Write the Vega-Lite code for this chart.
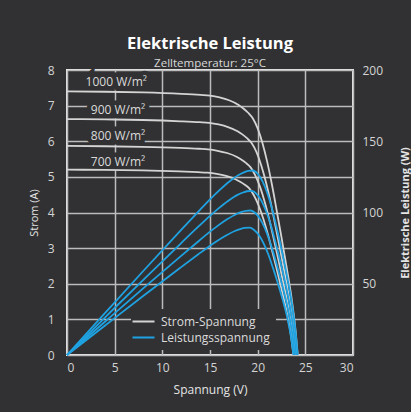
{
  "$schema": "https://vega.github.io/schema/vega-lite/v6.json",
  "width": 286,
  "height": 285,
  "autosize": {"type": "none"},
  "padding": {"left": 67, "top": 70, "right": 58, "bottom": 57},
  "background": "#313133",
  "title": {
    "text": "Elektrische Leistung",
    "subtitle": "Zelltemperatur: 25°C",
    "anchor": "middle",
    "frame": "group",
    "color": "#ffffff",
    "subtitleColor": "#d8d8d8",
    "font": "Open Sans",
    "subtitleFont": "Open Sans",
    "fontSize": 16.5,
    "fontWeight": "bold",
    "subtitleFontSize": 11.5,
    "subtitlePadding": 5,
    "offset": -5
  },
  "config": {
    "font": "Open Sans",
    "view": {"stroke": "#e8e8e8", "strokeWidth": 2},
    "axis": {
      "labelColor": "#d4d4d4",
      "titleColor": "#e4e4e4",
      "labelFont": "Open Sans",
      "titleFont": "Open Sans",
      "domain": false,
      "ticks": false,
      "labelOverlap": false,
      "gridColor": "#bcbcbc",
      "gridWidth": 1.5,
      "gridOpacity": 1
    }
  },
  "datasets": {
    "curves": [
      {"g": "1000", "V": 0, "I": 7.40, "P": 0},
      {"g": "1000", "V": 4, "I": 7.39, "P": 29.56},
      {"g": "1000", "V": 8, "I": 7.37, "P": 58.96},
      {"g": "1000", "V": 12, "I": 7.33, "P": 87.96},
      {"g": "1000", "V": 14, "I": 7.30, "P": 102.2},
      {"g": "1000", "V": 15, "I": 7.28, "P": 109.2},
      {"g": "1000", "V": 16, "I": 7.23, "P": 115.68},
      {"g": "1000", "V": 17, "I": 7.15, "P": 121.55},
      {"g": "1000", "V": 18, "I": 7.02, "P": 126.36},
      {"g": "1000", "V": 18.5, "I": 6.92, "P": 128.02},
      {"g": "1000", "V": 19, "I": 6.80, "P": 129.2},
      {"g": "1000", "V": 19.5, "I": 6.64, "P": 129.48},
      {"g": "1000", "V": 20, "I": 6.36, "P": 127.2},
      {"g": "1000", "V": 20.5, "I": 5.95, "P": 121.98},
      {"g": "1000", "V": 21, "I": 5.42, "P": 113.82},
      {"g": "1000", "V": 21.5, "I": 4.78, "P": 102.77},
      {"g": "1000", "V": 22, "I": 4.05, "P": 89.1},
      {"g": "1000", "V": 22.5, "I": 3.30, "P": 74.25},
      {"g": "1000", "V": 23, "I": 2.52, "P": 57.96},
      {"g": "1000", "V": 23.5, "I": 1.70, "P": 39.95},
      {"g": "1000", "V": 24, "I": 0.62, "P": 14.88},
      {"g": "1000", "V": 24.2, "I": 0, "P": 0},

      {"g": "900", "V": 0, "I": 6.623, "P": 0},
      {"g": "900", "V": 3.975, "I": 6.614, "P": 26.29},
      {"g": "900", "V": 7.95, "I": 6.596, "P": 52.44},
      {"g": "900", "V": 11.93, "I": 6.560, "P": 78.23},
      {"g": "900", "V": 13.91, "I": 6.534, "P": 90.90},
      {"g": "900", "V": 14.91, "I": 6.516, "P": 97.12},
      {"g": "900", "V": 15.9, "I": 6.471, "P": 102.89},
      {"g": "900", "V": 16.89, "I": 6.399, "P": 108.11},
      {"g": "900", "V": 17.89, "I": 6.283, "P": 112.38},
      {"g": "900", "V": 18.39, "I": 6.193, "P": 113.86},
      {"g": "900", "V": 18.88, "I": 6.086, "P": 114.91},
      {"g": "900", "V": 19.38, "I": 5.943, "P": 115.16},
      {"g": "900", "V": 19.88, "I": 5.692, "P": 113.13},
      {"g": "900", "V": 20.37, "I": 5.325, "P": 108.49},
      {"g": "900", "V": 20.87, "I": 4.851, "P": 101.23},
      {"g": "900", "V": 21.37, "I": 4.278, "P": 91.40},
      {"g": "900", "V": 21.86, "I": 3.625, "P": 79.25},
      {"g": "900", "V": 22.36, "I": 2.954, "P": 66.04},
      {"g": "900", "V": 22.86, "I": 2.255, "P": 51.55},
      {"g": "900", "V": 23.35, "I": 1.522, "P": 35.53},
      {"g": "900", "V": 23.85, "I": 0.555, "P": 13.23},
      {"g": "900", "V": 24.05, "I": 0, "P": 0},

      {"g": "800", "V": 0, "I": 5.868, "P": 0},
      {"g": "800", "V": 3.95, "I": 5.860, "P": 23.15},
      {"g": "800", "V": 7.90, "I": 5.844, "P": 46.18},
      {"g": "800", "V": 11.85, "I": 5.813, "P": 68.89},
      {"g": "800", "V": 13.83, "I": 5.789, "P": 80.04},
      {"g": "800", "V": 14.81, "I": 5.773, "P": 85.53},
      {"g": "800", "V": 15.80, "I": 5.733, "P": 90.60},
      {"g": "800", "V": 16.79, "I": 5.670, "P": 95.20},
      {"g": "800", "V": 17.78, "I": 5.567, "P": 98.97},
      {"g": "800", "V": 18.27, "I": 5.488, "P": 100.27},
      {"g": "800", "V": 18.76, "I": 5.392, "P": 101.19},
      {"g": "800", "V": 19.26, "I": 5.266, "P": 101.41},
      {"g": "800", "V": 19.75, "I": 5.043, "P": 99.62},
      {"g": "800", "V": 20.25, "I": 4.718, "P": 95.54},
      {"g": "800", "V": 20.74, "I": 4.298, "P": 89.14},
      {"g": "800", "V": 21.23, "I": 3.791, "P": 80.49},
      {"g": "800", "V": 21.73, "I": 3.212, "P": 69.78},
      {"g": "800", "V": 22.22, "I": 2.617, "P": 58.15},
      {"g": "800", "V": 22.71, "I": 1.998, "P": 45.39},
      {"g": "800", "V": 23.21, "I": 1.348, "P": 31.29},
      {"g": "800", "V": 23.70, "I": 0.492, "P": 11.65},
      {"g": "800", "V": 23.90, "I": 0, "P": 0},

      {"g": "700", "V": 0, "I": 5.202, "P": 0},
      {"g": "700", "V": 3.93, "I": 5.195, "P": 20.39},
      {"g": "700", "V": 7.85, "I": 5.181, "P": 40.68},
      {"g": "700", "V": 11.78, "I": 5.153, "P": 60.68},
      {"g": "700", "V": 13.74, "I": 5.132, "P": 70.51},
      {"g": "700", "V": 14.72, "I": 5.118, "P": 75.34},
      {"g": "700", "V": 15.70, "I": 5.083, "P": 79.81},
      {"g": "700", "V": 16.68, "I": 5.026, "P": 83.86},
      {"g": "700", "V": 17.67, "I": 4.935, "P": 87.18},
      {"g": "700", "V": 18.16, "I": 4.865, "P": 88.32},
      {"g": "700", "V": 18.65, "I": 4.780, "P": 89.14},
      {"g": "700", "V": 19.14, "I": 4.668, "P": 89.33},
      {"g": "700", "V": 19.63, "I": 4.471, "P": 87.76},
      {"g": "700", "V": 20.12, "I": 4.183, "P": 84.15},
      {"g": "700", "V": 20.61, "I": 3.810, "P": 78.52},
      {"g": "700", "V": 21.10, "I": 3.360, "P": 70.90},
      {"g": "700", "V": 21.59, "I": 2.847, "P": 61.47},
      {"g": "700", "V": 22.08, "I": 2.320, "P": 51.22},
      {"g": "700", "V": 22.57, "I": 1.772, "P": 39.99},
      {"g": "700", "V": 23.06, "I": 1.195, "P": 27.56},
      {"g": "700", "V": 23.55, "I": 0.436, "P": 10.27},
      {"g": "700", "V": 23.75, "I": 0, "P": 0}
    ],
    "labels": [
      {"label": "1000 W/m²", "V": 1.95, "I": 7.65},
      {"label": "900 W/m²", "V": 2.5, "I": 6.88},
      {"label": "800 W/m²", "V": 2.5, "I": 6.15},
      {"label": "700 W/m²", "V": 2.5, "I": 5.43}
    ]
  },
  "layer": [
    {
      "layer": [
        {
          "data": {"name": "labels"},
          "mark": {"type": "text", "align": "left", "baseline": "middle", "fontSize": 12, "font": "Open Sans", "color": "#313133", "stroke": "#313133", "strokeWidth": 9},
          "encoding": {
            "x": {"field": "V", "type": "quantitative", "scale": {"domain": [0, 30], "nice": false}, "title": "Spannung (V)",
                  "axis": {"values": [0, 5, 10, 15, 20, 25, 30], "labelFontSize": 12, "labelPadding": 7, "titleFontSize": 12, "titlePadding": 11, "titleFontWeight": "normal", "grid": true}},
            "y": {"field": "I", "type": "quantitative", "scale": {"domain": [0, 8], "nice": false}, "title": "Strom (A)",
                  "axis": {"orient": "left", "values": [0, 1, 2, 3, 4, 5, 6, 7, 8], "labelFontSize": 12, "labelPadding": 13, "titleFontSize": 11, "titlePadding": 8, "titleFontWeight": "normal", "grid": true}},
            "text": {"field": "label"}
          }
        },
        {
          "data": {"name": "labels"},
          "mark": {"type": "text", "align": "left", "baseline": "middle", "fontSize": 12, "font": "Open Sans", "color": "#dadada"},
          "encoding": {
            "x": {"field": "V", "type": "quantitative", "scale": {"domain": [0, 30], "nice": false}, "title": "Spannung (V)",
                  "axis": {"values": [0, 5, 10, 15, 20, 25, 30], "labelFontSize": 12, "labelPadding": 7, "titleFontSize": 12, "titlePadding": 11, "titleFontWeight": "normal", "grid": true}},
            "y": {"field": "I", "type": "quantitative", "scale": {"domain": [0, 8], "nice": false}, "title": "Strom (A)",
                  "axis": {"orient": "left", "values": [0, 1, 2, 3, 4, 5, 6, 7, 8], "labelFontSize": 12, "labelPadding": 13, "titleFontSize": 11, "titlePadding": 8, "titleFontWeight": "normal", "grid": true}},
            "text": {"field": "label"}
          }
        },
        {
          "data": {"name": "curves"},
          "mark": {"type": "line", "interpolate": "monotone", "strokeWidth": 1.8},
          "encoding": {
            "x": {"field": "V", "type": "quantitative", "scale": {"domain": [0, 30], "nice": false}, "title": "Spannung (V)",
                  "axis": {"values": [0, 5, 10, 15, 20, 25, 30], "labelFontSize": 12, "labelPadding": 7, "titleFontSize": 12, "titlePadding": 11, "titleFontWeight": "normal", "grid": true}},
            "y": {"field": "I", "type": "quantitative", "scale": {"domain": [0, 8], "nice": false}, "title": "Strom (A)",
                  "axis": {"orient": "left", "values": [0, 1, 2, 3, 4, 5, 6, 7, 8], "labelFontSize": 12, "labelPadding": 13, "titleFontSize": 11, "titlePadding": 8, "titleFontWeight": "normal", "grid": true}},
            "detail": {"field": "g"},
            "color": {
              "datum": "Strom-Spannung",
              "scale": {"domain": ["Strom-Spannung", "Leistungsspannung"], "range": ["#d4d4d4", "#1fa2e2"]},
              "legend": {
                "title": null,
                "orient": "none",
                "legendX": 64,
                "legendY": 239,
                "padding": 6,
                "fillColor": "#313133",
                "symbolType": "M-2,0H2",
                "symbolSize": 121,
                "symbolStrokeWidth": 2,
                "labelFontSize": 12,
                "labelColor": "#dcdcdc",
                "labelFont": "Open Sans",
                "labelOffset": 11,
                "rowPadding": 3
              }
            }
          }
        }
      ]
    },
    {
      "data": {"name": "curves"},
      "mark": {"type": "line", "interpolate": "monotone", "strokeWidth": 1.8},
      "encoding": {
        "x": {"field": "V", "type": "quantitative", "scale": {"domain": [0, 30], "nice": false}, "title": "Spannung (V)",
              "axis": {"values": [0, 5, 10, 15, 20, 25, 30], "labelFontSize": 12, "labelPadding": 7, "titleFontSize": 12, "titlePadding": 11, "titleFontWeight": "normal", "grid": true}},
        "y": {"field": "P", "type": "quantitative", "scale": {"domain": [0, 200], "nice": false}, "title": "Elektrische Leistung (W)",
              "axis": {"orient": "right", "values": [50, 100, 150, 200], "grid": false, "labelFontSize": 12, "labelPadding": 9, "titleFontSize": 11, "titleFontWeight": "bold", "titleAngle": 270, "titlePadding": 28}},
        "detail": {"field": "g"},
        "color": {"datum": "Leistungsspannung"}
      }
    }
  ],
  "resolve": {"scale": {"y": "independent"}}
}
